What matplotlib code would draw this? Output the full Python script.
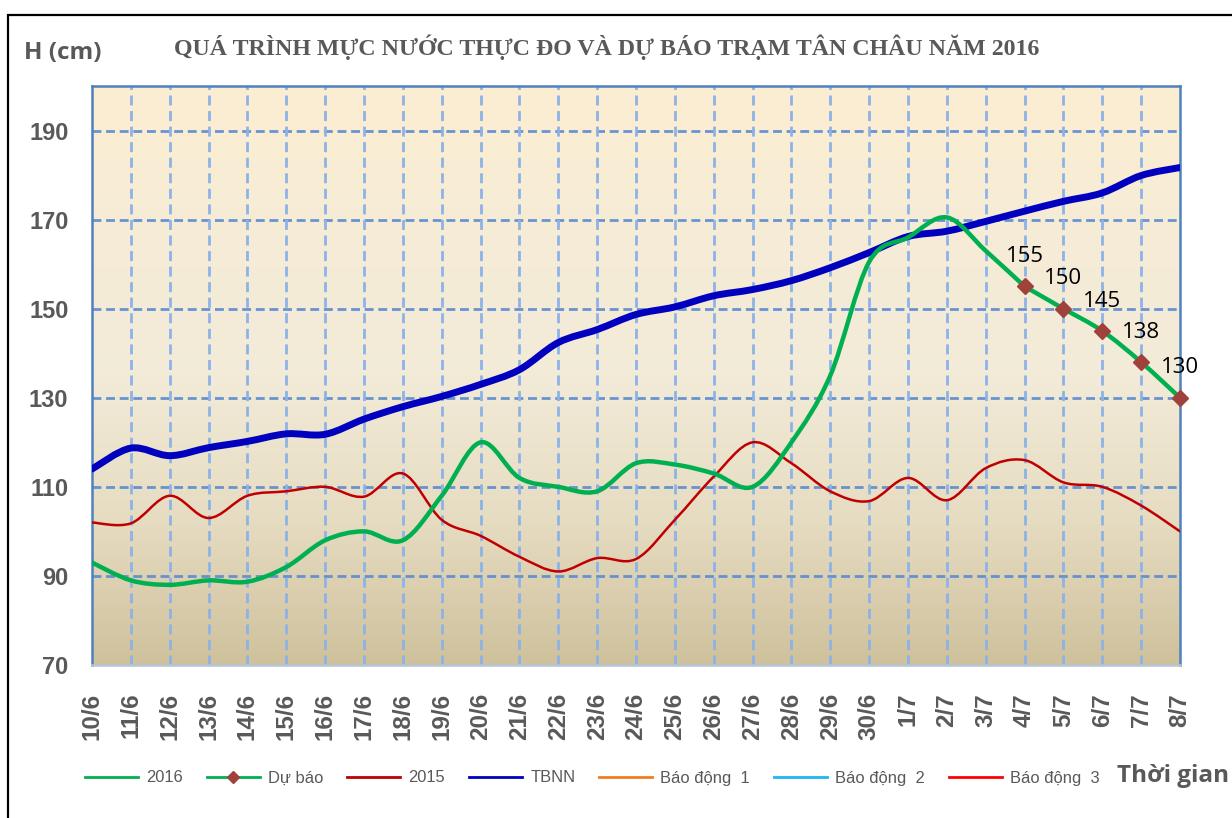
import numpy as np
import matplotlib
matplotlib.use("Agg")
import matplotlib.pyplot as plt
from matplotlib.path import Path
from matplotlib.patches import PathPatch, Rectangle
from matplotlib.lines import Line2D
from matplotlib.colors import LinearSegmentedColormap

# ---------------- data ----------------
dates = ["10/6", "11/6", "12/6", "13/6", "14/6", "15/6", "16/6", "17/6", "18/6", "19/6",
         "20/6", "21/6", "22/6", "23/6", "24/6", "25/6", "26/6", "27/6", "28/6", "29/6",
         "30/6", "1/7", "2/7", "3/7", "4/7", "5/7", "6/7", "7/7", "8/7"]

h2016 = [93, 89, 88, 89, 88.7, 92, 98, 100, 98, 108, 120, 112, 110, 109, 115.3, 115,
         113, 110, 120, 135, 160.5, 166, 170.5, 163, 155]

forecast_dates = ["4/7", "5/7", "6/7", "7/7", "8/7"]
forecast = [155, 150, 145, 138, 130]

h2015 = [102, 101.8, 108, 103, 108, 109, 110, 107.8, 113, 102.6, 99, 94.3, 91, 94, 93.8,
         102.6, 112.3, 120, 115.3, 109, 106.8, 112, 107, 114.2, 116, 111, 110, 105.8, 100]

tbnn = [114, 118.7, 117, 118.8, 120.2, 121.9, 121.8, 125.2, 128, 130.3, 133, 136.3, 142.4,
        145.3, 148.7, 150.4, 152.9, 154.3, 156.3, 159.2, 162.6, 166.2, 167.4, 169.6, 171.9,
        174.1, 176, 179.9, 181.7]

yticks = [70, 90, 110, 130, 150, 170, 190]

# ---------------- style ----------------
C2016 = "#00B050"
CFC_MK = "#A0413C"
C2015 = "#C00000"
CTBNN = "#0000BE"
GRAY = "#595959"


def smooth_path(xs, ys):
    """Excel-like smoothed line as cubic Bezier segments (Catmull-Rom control points)."""
    pts = np.column_stack([xs, ys]).astype(float)
    n = len(pts)
    verts = [pts[0]]
    codes = [Path.MOVETO]
    for i in range(n - 1):
        p0 = pts[i - 1] if i > 0 else pts[i]
        p1 = pts[i]
        p2 = pts[i + 1]
        p3 = pts[i + 2] if i + 2 < n else pts[i + 1]
        c1 = p1 + (p2 - p0) / 6.0
        c2 = p2 - (p3 - p1) / 6.0
        verts += [c1, c2, p2]
        codes += [Path.CURVE4] * 3
    return Path(verts, codes)


fig = plt.figure(figsize=(12.32, 8.18), dpi=100)
ax = fig.add_axes([92 / 1232, 1 - 665 / 818, (1180 - 92) / 1232, (665 - 86) / 818])

xidx = {d: i for i, d in enumerate(dates)}
x_all = np.arange(len(dates))

# background gradient
cmap = LinearSegmentedColormap.from_list("bg", ["#CFC19C", "#E6DCC2", "#F2EBD8", "#F6ECD6", "#FCEED2"])
grad = np.linspace(0, 1, 256).reshape(-1, 1)
ax.imshow(grad, extent=[0, len(dates) - 1, 70, 200], origin="lower", aspect="auto",
          cmap=cmap, zorder=0, interpolation="bicubic")

ax.set_xlim(0, len(dates) - 1)
ax.set_ylim(70, 200)

# grid
for yv in yticks[1:]:
    ax.axhline(yv, color="#5A8AD0", lw=2.0, ls=(0, (3.2, 1.7)), zorder=1, alpha=0.9)
for xv in x_all[1:-1]:
    ax.axvline(xv, color="#8DB3E6", lw=2.0, ls=(0, (3.6, 2.0)), zorder=1)

# series
ax.add_patch(PathPatch(smooth_path(x_all, h2015), fill=False, ec=C2015, lw=1.8, zorder=3,
                       capstyle="round", joinstyle="round"))
ax.add_patch(PathPatch(smooth_path(x_all, tbnn), fill=False, ec=CTBNN, lw=5.0, zorder=4,
                       capstyle="round", joinstyle="round"))
ax.add_patch(PathPatch(smooth_path(x_all[:len(h2016)], h2016), fill=False, ec=C2016, lw=3.2,
                       zorder=5, capstyle="round", joinstyle="round"))
fx = [xidx[d] for d in forecast_dates]
ax.add_patch(PathPatch(smooth_path(fx, forecast), fill=False, ec=C2016, lw=3.2, zorder=5,
                       capstyle="round", joinstyle="round"))
ax.plot(fx, forecast, ls="none", marker="D", ms=8.5, color=CFC_MK, zorder=6, clip_on=False)
for xv, yv in zip(fx, forecast):
    ax.annotate(f"{yv:g}", (xv, yv), xytext=(0, 14), textcoords="offset points",
                ha="center", va="bottom", fontsize=16, family=["Open Sans", "DejaVu Sans"],
                color="black", zorder=7)

# spines
for s in ["left", "right", "top"]:
    ax.spines[s].set_color("#4F81BD")
    ax.spines[s].set_linewidth(1.8)
ax.spines["bottom"].set_color("#B8C4D4")
ax.spines["bottom"].set_linewidth(1.8)

# ticks
ax.set_yticks(yticks)
ax.set_yticklabels([str(v) for v in yticks], fontsize=17, fontweight="bold", color=GRAY,
                   family="Liberation Sans")
ax.set_xticks(x_all)
ax.set_xticklabels(dates, rotation=90, fontsize=17.5, fontweight="bold", color=GRAY,
                   family="Liberation Sans")
ax.tick_params(axis="both", length=0)
ax.tick_params(axis="y", pad=17)
ax.tick_params(axis="x", pad=20)

# texts
fig.text(607 / 1232, 1 - 47 / 818,
         "QUÁ TRÌNH MỰC NƯỚC THỰC ĐO VÀ DỰ BÁO TRẠM TÂN CHÂU NĂM 2016",
         ha="center", va="center", fontsize=17.2, fontweight="bold", color=GRAY,
         family="Liberation Serif")
fig.text(24 / 1232, 1 - 53 / 818, "H (cm)", ha="left", va="center", fontsize=17.5,
         fontweight="bold", color=GRAY, family=["Open Sans", "DejaVu Sans"])
fig.text(1229 / 1232, 1 - 776 / 818, "Thời gian", ha="right", va="center", fontsize=17.5,
         fontweight="bold", color=GRAY, family=["Open Sans", "DejaVu Sans"])

# legend
handles = [
    Line2D([], [], color=C2016, lw=2),
    Line2D([], [], color=C2016, lw=2, marker="D", ms=6, mfc=CFC_MK, mec=CFC_MK),
    Line2D([], [], color=C2015, lw=2),
    Line2D([], [], color=CTBNN, lw=2),
    Line2D([], [], color="#F07D20", lw=2),
    Line2D([], [], color="#1FB5F0", lw=2),
    Line2D([], [], color="#FF0000", lw=2),
]
labels = ["2016", "Dự báo", "2015", "TBNN", "Báo động  1", "Báo động  2", "Báo động  3"]
leg = fig.legend(handles, labels, loc="center left", bbox_to_anchor=(70 / 1232, 1 - 778 / 818),
                 ncol=7, frameon=False, handlelength=3.2, handletextpad=0.5,
                 columnspacing=1.45, prop={"family": "Liberation Sans", "size": 11.9})
for t in leg.get_texts():
    t.set_color(GRAY)

# outer frame
fig.add_artist(Rectangle((8 / 1232, -0.05), 1.2, 1 - 15 / 818 + 0.05, transform=fig.transFigure,
                         fill=False, ec="black", lw=1.6))

fig.savefig("out.png", dpi=100)
